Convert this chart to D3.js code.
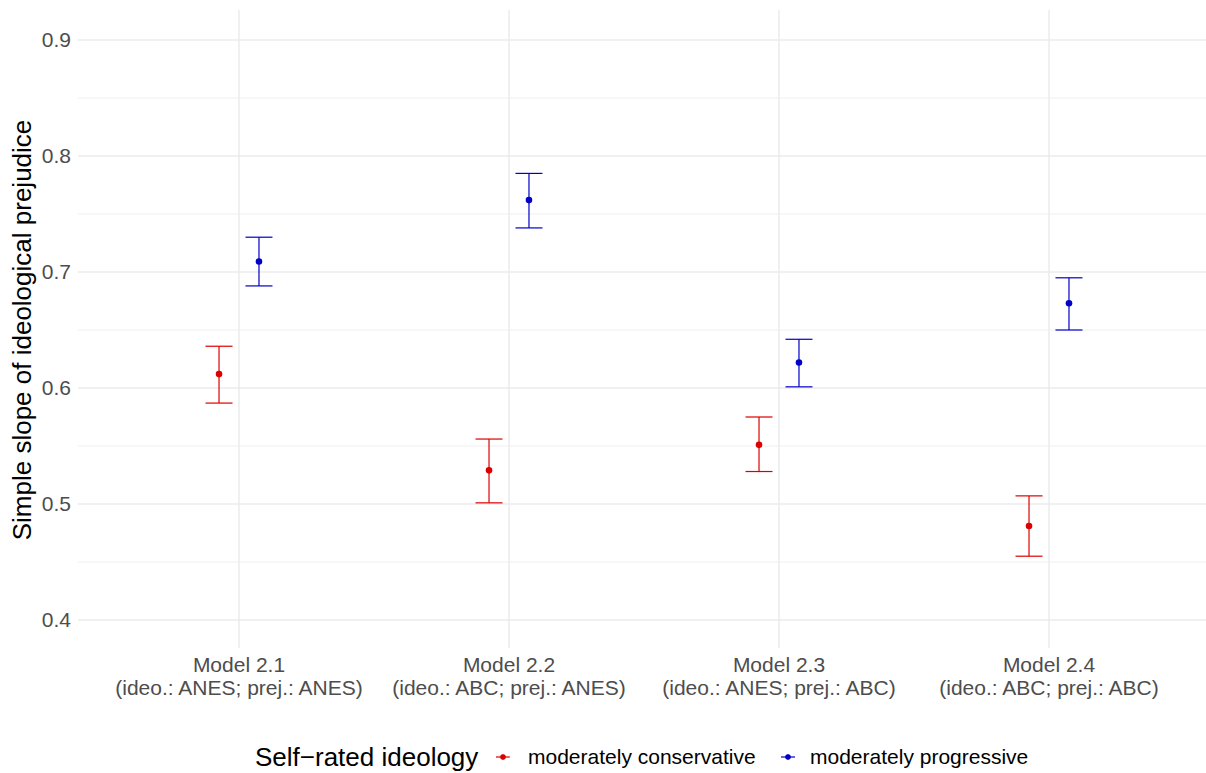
<!DOCTYPE html>
<html>
<head>
<meta charset="utf-8">
<script src="https://cdn.jsdelivr.net/npm/d3@7"></script>
<style>
  body { margin: 0; background: #fff; }
  text { font-family: "Liberation Sans", Arial, sans-serif; }
</style>
</head>
<body>
<div id="chart"></div>
<script>
// models on the x axis
const models = ['Model 2.1', 'Model 2.2', 'Model 2.3', 'Model 2.4'];
const subLabels = ['(ideo.: ANES; prej.: ANES)', '(ideo.: ABC; prej.: ANES)',
                   '(ideo.: ANES; prej.: ABC)', '(ideo.: ABC; prej.: ABC)'];
const groups = ['moderately conservative', 'moderately progressive'];
const colors = ['#DD0000', '#0000C8'];

// estimates + CI per group
const consEst = [0.612, 0.529, 0.551, 0.481];
const consLow = [0.587, 0.501, 0.528, 0.455];
const consHigh = [0.636, 0.556, 0.575, 0.507];
const progEst = [0.709, 0.762, 0.622, 0.673];
const progLow = [0.688, 0.738, 0.601, 0.650];
const progHigh = [0.730, 0.785, 0.642, 0.695];

const yTicks = [0.4, 0.5, 0.6, 0.7, 0.8, 0.9];
const yMinor = [0.45, 0.55, 0.65, 0.75, 0.85];

const W = 1206, H = 773;
const panel = {left: 78, right: 1206, top: 10, bottom: 648};

const svg = d3.select('#chart').append('svg')
    .attr('width', W).attr('height', H);

// discrete positions 1..4 with 0.6 expansion
const x = d3.scaleLinear().domain([0.4, 4.6]).range([77, 1211]);
const y = d3.scaleLinear().domain([0.4, 0.9]).range([620, 40]);

const dodge = 0.074;   // in category units
const capHalf = 13.5;  // px

// gridlines
svg.append('g').selectAll('line.minor')
    .data(yMinor)
  .enter().append('line')
    .attr('x1', panel.left).attr('x2', panel.right)
    .attr('y1', d => y(d)).attr('y2', d => y(d))
    .attr('stroke', '#EBEBEB').attr('stroke-width', 0.8);

svg.append('g').selectAll('line.major')
    .data(yTicks)
  .enter().append('line')
    .attr('x1', panel.left).attr('x2', panel.right)
    .attr('y1', d => y(d)).attr('y2', d => y(d))
    .attr('stroke', '#EBEBEB').attr('stroke-width', 1.5);

svg.append('g').selectAll('line.vert')
    .data(models)
  .enter().append('line')
    .attr('x1', (d, i) => x(i + 1)).attr('x2', (d, i) => x(i + 1))
    .attr('y1', panel.top).attr('y2', panel.bottom)
    .attr('stroke', '#EBEBEB').attr('stroke-width', 1.5);

// y axis labels
const yAxis = svg.append('g')
    .attr('transform', 'translate(' + panel.left + ',0)')
    .call(d3.axisLeft(y).tickValues(yTicks).tickFormat(d3.format('.1f')).tickSize(0).tickPadding(7));
yAxis.select('.domain').remove();
yAxis.selectAll('text')
    .attr('fill', '#4D4D4D')
    .style('font-size', '21px');

// x axis labels (two lines)
const xLab = svg.append('g').selectAll('text.xl')
    .data(models)
  .enter().append('text')
    .attr('text-anchor', 'middle')
    .attr('x', (d, i) => x(i + 1))
    .attr('fill', '#4D4D4D')
    .style('font-size', '21px');
xLab.append('tspan').attr('x', (d, i) => x(i + 1)).attr('y', 672).text(d => d);
xLab.append('tspan').attr('x', (d, i) => x(i + 1)).attr('y', 695).text((d, i) => subLabels[i]);

// y axis title
svg.append('text')
    .attr('transform', 'translate(31,' + ((y(0.4) + y(0.9)) / 2) + ') rotate(-90)')
    .attr('text-anchor', 'middle')
    .style('font-size', '26px')
    .attr('fill', '#000')
    .text('Simple slope of ideological prejudice');

// error bars + points
const series = [
  {est: consEst, low: consLow, high: consHigh, off: -dodge, color: colors[0]},
  {est: progEst, low: progLow, high: progHigh, off: dodge, color: colors[1]}
];

series.forEach(s => {
  const g = svg.append('g');
  const rows = models.map((m, i) => ({i: i, est: s.est[i], low: s.low[i], high: s.high[i]}));
  const cx = d => x(d.i + 1 + s.off);

  g.selectAll('.stem').data(rows).enter().append('line')
      .attr('x1', cx).attr('x2', cx)
      .attr('y1', d => y(d.low)).attr('y2', d => y(d.high))
      .attr('stroke', s.color).attr('stroke-width', 1.2);
  g.selectAll('.capT').data(rows).enter().append('line')
      .attr('x1', d => cx(d) - capHalf).attr('x2', d => cx(d) + capHalf)
      .attr('y1', d => y(d.high)).attr('y2', d => y(d.high))
      .attr('stroke', s.color).attr('stroke-width', 1.2);
  g.selectAll('.capB').data(rows).enter().append('line')
      .attr('x1', d => cx(d) - capHalf).attr('x2', d => cx(d) + capHalf)
      .attr('y1', d => y(d.low)).attr('y2', d => y(d.low))
      .attr('stroke', s.color).attr('stroke-width', 1.2);
  g.selectAll('circle').data(rows).enter().append('circle')
      .attr('cx', cx).attr('cy', d => y(d.est))
      .attr('r', 3.3).attr('fill', s.color);
});

// legend
const leg = svg.append('g').attr('transform', 'translate(0,757)');
leg.append('text')
    .attr('x', 255).attr('y', 9)
    .style('font-size', '26px')
    .text('Self\u2212rated ideology');

const keyX = [503, 788];
const labX = [528, 810];
groups.forEach((g, i) => {
  leg.append('line')
      .attr('x1', keyX[i] - 7).attr('x2', keyX[i] + 7)
      .attr('y1', 0).attr('y2', 0)
      .attr('stroke', colors[i]).attr('stroke-width', 1.2);
  leg.append('line')
      .attr('x1', keyX[i]).attr('x2', keyX[i])
      .attr('y1', -2.5).attr('y2', 2.5)
      .attr('stroke', colors[i]).attr('stroke-width', 1.2);
  leg.append('circle')
      .attr('cx', keyX[i]).attr('cy', 0).attr('r', 2.8)
      .attr('fill', colors[i]);
  leg.append('text')
      .attr('x', labX[i]).attr('y', 7)
      .style('font-size', '21px')
      .text(g);
});
</script>
</body>
</html>
